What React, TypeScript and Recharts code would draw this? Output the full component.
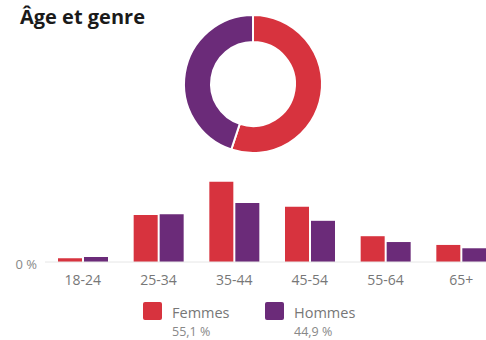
import { PieChart, Pie, Cell, BarChart, Bar, XAxis, YAxis } from "recharts";

const ageGroups = ["18-24", "25-34", "35-44", "45-54", "55-64", "65+"];
const femmes = [0.9, 11.3, 19.3, 13.3, 6.2, 4.1];
const hommes = [1.2, 11.5, 14.2, 9.9, 4.8, 3.3];
const genres = ["Femmes", "Hommes"];
const totals = [55.1, 44.9];
const totalLabels = ["55,1 %", "44,9 %"];

const RED = "#d7333e";
const PURPLE = "#6b2b79";
const COLORS = [RED, PURPLE];
const FONT = "'Open Sans', 'Noto Sans', sans-serif";

const barData = ageGroups.map((age, i) => ({
  age,
  femmes: femmes[i],
  hommes: hommes[i],
}));
const pieData = genres.map((name, i) => ({ name, value: totals[i] }));

export default function App() {
  return (
    <div
      style={{
        position: "fixed",
        left: 0,
        top: 0,
        width: 486,
        height: 340,
        overflow: "hidden",
        background: "#fff",
        fontFamily: FONT,
      }}
    >
      <div
        style={{
          position: "absolute",
          left: 20,
          top: 3,
          fontSize: 20,
          fontWeight: 700,
          color: "#1a1a1a",
        }}
      >
        Âge et genre
      </div>

      <div style={{ position: "absolute", left: 0, top: 0 }}>
        <PieChart width={486} height={160}>
          <Pie
            data={pieData}
            dataKey="value"
            cx={248}
            cy={79}
            innerRadius={42}
            outerRadius={69}
            startAngle={90}
            endAngle={-270}
            stroke="#fff"
            strokeWidth={2}
            isAnimationActive={false}
          >
            {pieData.map((d, i) => (
              <Cell key={d.name} fill={COLORS[i]} />
            ))}
          </Pie>
        </PieChart>
      </div>

      <div style={{ position: "absolute", left: 0, top: 150 }}>
        <BarChart
          width={520}
          height={150}
          data={barData}
          margin={{ top: 8, right: 21, left: 0, bottom: 0 }}
          barGap={2}
          barCategoryGap={13}
        >
          <XAxis
            dataKey="age"
            height={38}
            tick={{ fontSize: 14, fill: "#777", fontFamily: FONT, dy: 5 }}
            tickLine={false}
            axisLine={{ stroke: "#e6e6e6" }}
            interval={0}
          />
          <YAxis
            width={45}
            domain={[0, 25]}
            ticks={[0]}
            tickFormatter={(v: number) => `${v} %`}
            tick={{ fontSize: 13, fill: "#888", fontFamily: FONT, dy: 2 }}
            tickLine={false}
            axisLine={false}
          />
          <Bar dataKey="femmes" fill={RED} isAnimationActive={false} />
          <Bar dataKey="hommes" fill={PURPLE} isAnimationActive={false} />
        </BarChart>
      </div>

      {genres.map((g, i) => (
        <div
          key={g}
          style={{
            position: "absolute",
            left: i === 0 ? 143 : 265,
            top: 302,
            display: "flex",
            alignItems: "flex-start",
          }}
        >
          <div
            style={{
              width: 19,
              height: 18,
              borderRadius: 2,
              background: COLORS[i],
              marginRight: 10,
            }}
          />
          <div>
            <div style={{ fontSize: 14.5, color: "#777", lineHeight: "20px", marginTop: 1 }}>{g}</div>
            <div style={{ fontSize: 12.5, color: "#888", lineHeight: "16px", marginTop: 1 }}>{totalLabels[i]}</div>
          </div>
        </div>
      ))}
    </div>
  );
}
